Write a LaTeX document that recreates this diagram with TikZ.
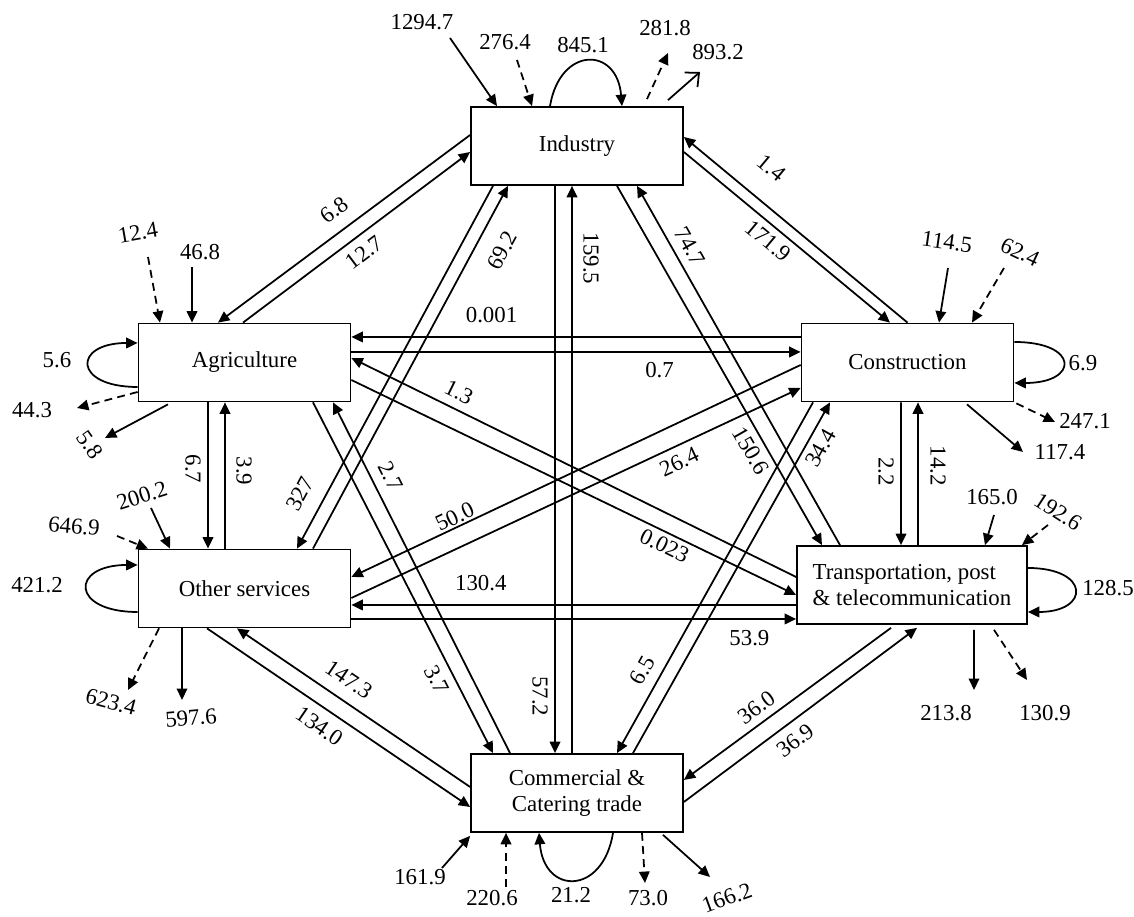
\documentclass[tikz,border=0pt]{standalone}
\usepackage{fontspec}
\setmainfont{Liberation Serif}
\usetikzlibrary{arrows.meta}

\tikzset{
	sector/.style={draw, line width=1pt, minimum width=4.24cm, minimum height=1.56cm, inner sep=0pt, align=center},
	num/.style={inner sep=1pt},
	flow/.style={line width=1pt, ->},
	ext/.style={flow, dash pattern=on 4.5pt off 3pt},
}

\begin{document}
\begin{tikzpicture}[>={Triangle[length=6.5pt,width=6pt]}, font=\fontsize{13}{15}\selectfont]
	\useasboundingbox (0,0) rectangle (22.68,18.34);

	\node[sector] (ind) at (11.54,15.42) {Industry};
	\node[sector] (agr) at (4.89,11.09) {Agriculture};
	\node[sector] (con) at (18.15,11.09) {Construction};
	\node[sector] (oth) at (4.89,6.57) {Other services};
	\node[sector, minimum width=4.6cm, align=left] (tra) at (18.24,6.64) {Transportation, post\\\& telecommunication};
	\node[sector] (com) at (11.54,2.48) {Commercial \&\\Catering trade};

	\draw[flow] ([yshift=0.22cm]ind.west) -- ([xshift=-0.53cm]agr.north)
		node[num, pos=0.49, sloped, above, outer sep=6.7pt] (k-ia) {6.8};
	\draw[flow] ([xshift=-0.03cm]agr.north) -- ([yshift=-0.12cm]ind.west)
		node[num, pos=0.49, sloped, below, outer sep=4.2pt] (k-ai) {12.7};
	\draw[flow] (con.north) -- ([yshift=0.18cm]ind.east)
		node[num, pos=0.70, sloped, above, outer sep=13pt] (k-ci) {1.4};
	\draw[flow] ([yshift=-0.12cm]ind.east) -- ([xshift=-0.35cm]con.north)
		node[num, pos=0.455, sloped, below, outer sep=2.9pt] (k-ic) {171.9};
	\draw[flow] ([xshift=-1.68cm]ind.south) -- ([xshift=1.05cm]oth.north)
		node[num, pos=0.88, sloped, above, outer sep=7.9pt] (k-io) {327};
	\draw[flow] ([xshift=1.37cm]oth.north) -- ([xshift=-1.38cm]ind.south)
		node[num, pos=0.855, sloped, below, outer sep=9.2pt] (k-oi) {69.2};
	\draw[flow] ([xshift=-0.44cm]ind.south) -- ([xshift=-0.44cm]com.north)
		node[num, pos=0.90, rotate=-90, anchor=north, outer sep=3.1pt] (k-im) {57.2};
	\draw[flow] ([xshift=-0.10cm]com.north) -- ([xshift=-0.10cm]ind.south)
		node[num, pos=0.872, rotate=-90, anchor=south, outer sep=5.4pt] (k-mi) {159.5};
	\draw[flow] ([xshift=0.80cm]ind.south) -- ([xshift=-1.80cm]tra.north)
		node[num, pos=0.717, sloped, below, outer sep=3pt] (k-it) {150.6};
	\draw[flow] ([xshift=-1.44cm]tra.north) -- ([xshift=1.20cm]ind.south)
		node[num, pos=0.81, sloped, above, outer sep=4.1pt] (k-ti) {74.7};

	\draw[flow] ([yshift=0.51cm]con.west) -- ([yshift=0.51cm]agr.east)
		node[num, pos=0.688, above, outer sep=7.1pt] (k-ca) {0.001};
	\draw[flow] ([yshift=0.21cm]agr.east) -- ([yshift=0.21cm]con.west)
		node[num, pos=0.686, below, outer sep=4.8pt] (k-ac) {0.7};
	\draw[flow] ([xshift=-0.73cm]agr.south) -- ([xshift=-0.73cm]oth.north)
		node[num, pos=0.456, rotate=-90, anchor=north, outer sep=3.1pt] (k-ao) {6.7};
	\draw[flow] ([xshift=-0.39cm]oth.north) -- ([xshift=-0.39cm]agr.south)
		node[num, pos=0.53, rotate=-90, anchor=south, outer sep=5.4pt] (k-oa) {3.9};
	\draw[flow] ([xshift=1.37cm]agr.south) -- ([xshift=-1.68cm]com.north)
		node[num, pos=0.77, sloped, below, outer sep=4pt] (k-am) {3.7};
	\draw[flow] ([xshift=-1.34cm]com.north) -- ([xshift=1.77cm]agr.south)
		node[num, pos=0.766, sloped, above, outer sep=5.1pt] (k-ma) {2.7};
	\draw[flow] ([yshift=0.16cm]tra.west) -- ([yshift=0.09cm]agr.east)
		node[num, pos=0.775, sloped, above, outer sep=4.2pt] (k-ta) {1.3};
	\draw[flow] ([yshift=-0.35cm]agr.east) -- ([yshift=-0.20cm]tra.west)
		node[num, pos=0.717, sloped, below, outer sep=2.1pt] (k-at) {0.023};

	\draw[flow] ([yshift=-0.05cm]con.west) -- ([yshift=0.23cm]oth.east)
		node[num, pos=0.76, sloped, above, outer sep=0.5pt] (k-co) {50.0};
	\draw[flow] ([yshift=-0.19cm]oth.east) -- ([yshift=-0.51cm]con.west)
		node[num, pos=0.715, sloped, below, outer sep=3.4pt] (k-oc) {26.4};
	\draw[flow] ([xshift=-1.89cm]con.south) -- ([xshift=0.80cm]com.north)
		node[num, pos=0.79, sloped, above, outer sep=5pt] (k-cm) {6.5};
	\draw[flow] ([xshift=1.12cm]com.north) -- ([xshift=-1.55cm]con.south)
		node[num, pos=0.89, sloped, below, outer sep=2.7pt] (k-mc) {34.4};
	\draw[flow] ([xshift=-0.13cm]con.south) -- ([xshift=-0.22cm]tra.north)
		node[num, pos=0.486, rotate=-90, anchor=north, outer sep=3.1pt] (k-ct) {2.2};
	\draw[flow] ([xshift=0.12cm]tra.north) -- ([xshift=0.21cm]con.south)
		node[num, pos=0.556, rotate=-90, anchor=south, outer sep=6pt] (k-tc) {14.2};

	\draw[flow] ([yshift=-0.40cm]tra.west) -- ([yshift=-0.33cm]oth.east)
		node[num, pos=0.709, above, outer sep=7.1pt] (k-to) {130.4};
	\draw[flow] ([yshift=-0.61cm]oth.east) -- ([yshift=-0.68cm]tra.west)
		node[num, pos=0.895, below, outer sep=5.4pt] (k-ot) {53.9};
	\draw[flow] ([xshift=-0.75cm]oth.south) -- ([yshift=-0.28cm]com.west)
		node[num, pos=0.465, sloped, below, outer sep=4.8pt] (k-om) {134.0};
	\draw[flow] ([yshift=0.12cm]com.west) -- ([xshift=-0.15cm]oth.south)
		node[num, pos=0.57, sloped, above, outer sep=6.3pt] (k-mo) {147.3};
	\draw[flow] ([xshift=-0.42cm,yshift=-0.06cm]tra.south) -- ([yshift=0.26cm]com.east)
		node[num, pos=0.605, sloped, above, outer sep=3.5pt] (k-tm) {36.0};
	\draw[flow] ([yshift=-0.18cm]com.east) -- ([xshift=0.10cm,yshift=-0.06cm]tra.south)
		node[num, pos=0.433, sloped, below, outer sep=4.4pt] (k-mt) {36.9};

	\foreach \nm/\px/\py/\ang/\val in {
		i1/8.44/17.90/0/1294.7, i2/10.10/17.50/0/276.4, i3/11.66/17.44/0/845.1,
		i4/13.30/17.78/0/281.8, i5/14.36/17.30/0/893.2,
		a1/2.76/13.68/10/12.4, a2/4.00/13.30/0/46.8, a3/1.14/11.14/0/5.6,
		a4/0.64/10.14/0/44.3, a5/1.80/9.44/-55/5.8,
		c1/18.94/13.50/-8/114.5, c2/20.40/13.30/-25/62.4, c3/21.66/11.08/0/6.9,
		c4/21.70/9.92/0/247.1, c5/21.20/9.30/0/117.4,
		o1/1.48/7.82/-5/646.9, o2/2.84/8.42/18/200.2, o3/0.74/6.64/0/421.2,
		o4/2.22/4.30/-15/623.4, o5/3.82/3.98/5/597.6,
		t1/19.84/8.40/0/165.0, t2/21.16/8.10/-33/192.6, t3/22.16/6.58/0/128.5,
		t4/18.92/4.08/0/213.8, t5/20.90/4.08/0/130.9,
		m1/8.40/0.80/0/161.9, m2/9.84/0.38/0/220.6, m3/11.42/0.44/0/21.2,
		m4/12.96/0.38/0/73.0, m5/14.54/0.38/20/166.2}
		\node[num, rotate=\ang] (v-\nm) at (\px,\py) {\val};

	\foreach \nm/\px/\py in {
		i1/9.00/17.58, i2/10.34/17.14, i4/13.36/17.28, i5/14.00/16.90,
		a1/2.96/13.20, a2/3.84/13.00, a4/1.54/10.18, a5/2.10/9.58,
		c1/18.96/12.98, c2/20.08/12.98, c4/21.10/9.90, c5/20.46/9.30,
		o1/2.34/7.62, o2/3.02/8.18, o4/2.56/4.54, o5/3.64/4.34,
		t1/19.88/8.04, t2/20.96/7.84, t4/19.48/4.54, t5/20.54/4.74,
		m1/8.84/0.98, m2/10.12/0.60, m4/12.90/0.68, m5/14.20/0.80}
		\coordinate (e-\nm) at (\px,\py);

	\draw[flow] (e-i1) -- ([xshift=-1.60cm]ind.north);
	\draw[ext] (e-i2) -- ([xshift=-0.90cm]ind.north);
	\draw[flow] ([xshift=-0.54cm]ind.north) .. controls +(0.2,1.2) and +(-0.1,1.2) .. ([xshift=0.90cm]ind.north);
	\draw[ext] ([xshift=1.40cm,yshift=0.14cm]ind.north) -- (e-i4);
	\draw[line width=1pt, -{Straight Barb[length=6pt,width=11pt]}] ([xshift=1.82cm,yshift=0.12cm]ind.north) -- (e-i5);

	\draw[ext] (e-a1) -- ([xshift=-1.69cm]agr.north);
	\draw[flow] (e-a2) -- ([xshift=-1.05cm]agr.north);
	\draw[flow] ([yshift=-0.49cm]agr.west) .. controls +(-1.3,0) and +(-1.3,0) .. ([yshift=0.39cm]agr.west);
	\draw[ext] ([yshift=-0.59cm]agr.west) -- (e-a4);
	\draw[flow] ([xshift=-1.53cm,yshift=-0.04cm]agr.south) -- (e-a5);

	\draw[flow] (e-c1) -- ([xshift=0.63cm]con.north);
	\draw[ext] (e-c2) -- ([xshift=1.29cm]con.north);
	\draw[flow] ([yshift=0.41cm]con.east) .. controls +(1.3,0) and +(1.3,0) .. ([yshift=-0.41cm]con.east);
	\draw[ext] ([xshift=0.04cm,yshift=-0.02cm]con.south east) -- (e-c4);
	\draw[flow] ([xshift=1.19cm,yshift=-0.04cm]con.south) -- (e-c5);

	\draw[ext] (e-o1) -- ([xshift=-1.93cm]oth.north);
	\draw[flow] (e-o2) -- ([xshift=-1.49cm]oth.north);
	\draw[flow] ([yshift=-0.47cm]oth.west) .. controls +(-1.35,0) and +(-1.35,0) .. ([yshift=0.47cm]oth.west);
	\draw[ext] ([xshift=-1.71cm]oth.south) -- (e-o4);
	\draw[flow] ([xshift=-1.25cm]oth.south) -- (e-o5);

	\draw[flow] (e-t1) -- ([xshift=1.46cm]tra.north);
	\draw[ext] (e-t2) -- ([xshift=2.20cm]tra.north);
	\draw[flow] ([yshift=0.34cm]tra.east) .. controls +(1.25,0) and +(1.25,0) .. ([yshift=-0.54cm]tra.east);
	\draw[flow] ([xshift=1.24cm,yshift=-0.1cm]tra.south) -- (e-t4);
	\draw[ext] ([xshift=1.64cm,yshift=-0.1cm]tra.south) -- (e-t5);

	\draw[flow] (e-m1) -- ([yshift=-0.06cm]com.south west);
	\draw[ext] (e-m2) -- ([xshift=-1.42cm]com.south);
	\draw[flow] ([xshift=0.72cm]com.south) .. controls +(-0.2,-1.25) and +(0.1,-1.25) .. ([xshift=-0.76cm]com.south);
	\draw[ext] ([xshift=1.30cm]com.south) -- (e-m4);
	\draw[flow] ([xshift=1.72cm,yshift=-0.04cm]com.south) -- (e-m5);
\end{tikzpicture}
\end{document}
